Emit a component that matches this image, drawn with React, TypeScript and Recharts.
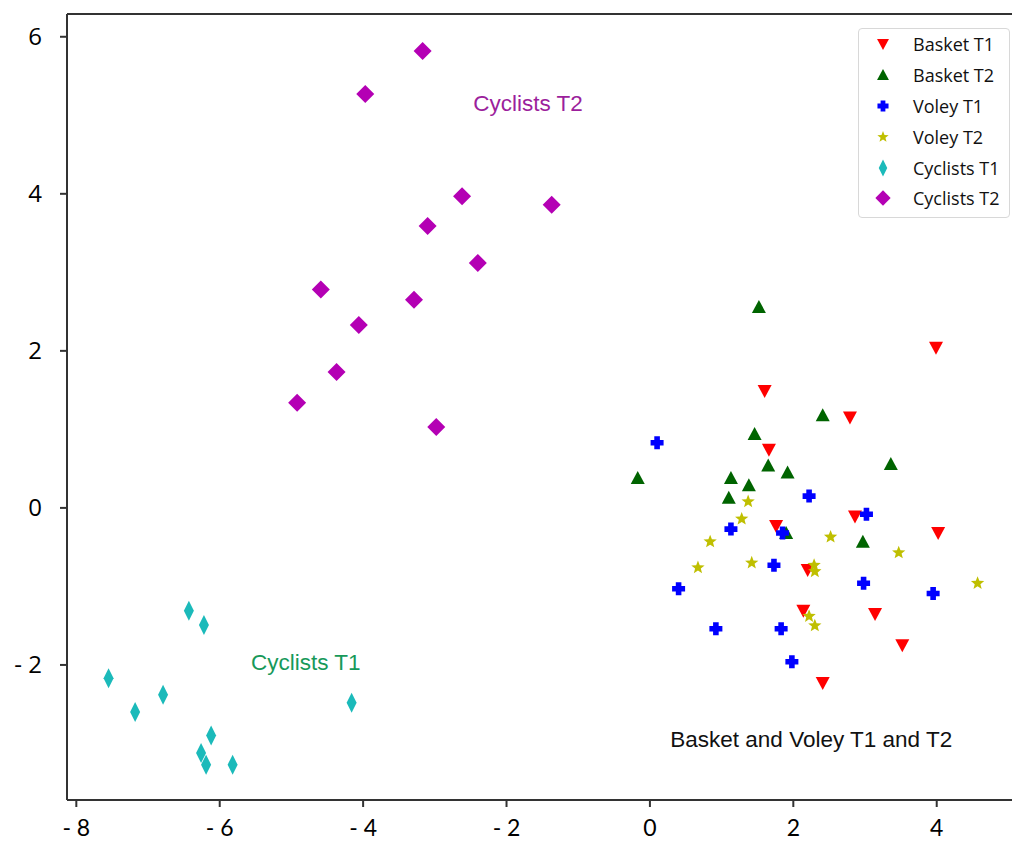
import React from "react";
import {
  ScatterChart,
  Scatter,
  XAxis,
  YAxis,
  ReferenceLine,
  ReferenceDot,
} from "recharts";

// points
const basketT1 = [
  { x: 3.99, y: 2.04 }, { x: 1.6, y: 1.49 }, { x: 2.79, y: 1.15 },
  { x: 1.66, y: 0.74 }, { x: 2.86, y: -0.11 }, { x: 1.76, y: -0.23 },
  { x: 4.02, y: -0.32 }, { x: 2.2, y: -0.79 }, { x: 2.14, y: -1.31 },
  { x: 3.14, y: -1.35 }, { x: 3.52, y: -1.75 }, { x: 2.41, y: -2.23 },
];
const basketT2 = [
  { x: 1.52, y: 2.56 }, { x: 2.41, y: 1.18 }, { x: 1.46, y: 0.94 },
  { x: 1.65, y: 0.54 }, { x: 1.92, y: 0.45 }, { x: 3.36, y: 0.56 },
  { x: -0.17, y: 0.38 }, { x: 1.13, y: 0.38 }, { x: 1.38, y: 0.29 },
  { x: 1.1, y: 0.13 }, { x: 1.9, y: -0.32 }, { x: 2.97, y: -0.43 },
];
const voleyT1 = [
  { x: 0.1, y: 0.83 }, { x: 2.22, y: 0.15 }, { x: 3.02, y: -0.08 },
  { x: 1.13, y: -0.27 }, { x: 1.85, y: -0.32 }, { x: 1.73, y: -0.73 },
  { x: 0.4, y: -1.03 }, { x: 2.98, y: -0.96 }, { x: 3.95, y: -1.09 },
  { x: 0.92, y: -1.54 }, { x: 1.83, y: -1.54 }, { x: 1.98, y: -1.96 },
];
const voleyT2 = [
  { x: 1.37, y: 0.08 }, { x: 1.28, y: -0.14 }, { x: 0.84, y: -0.43 },
  { x: 2.52, y: -0.37 }, { x: 3.47, y: -0.57 }, { x: 0.67, y: -0.76 },
  { x: 1.42, y: -0.7 }, { x: 2.29, y: -0.73 }, { x: 2.3, y: -0.81 },
  { x: 4.57, y: -0.96 }, { x: 2.22, y: -1.38 }, { x: 2.3, y: -1.5 },
];
const cyclistsT1 = [
  { x: -6.43, y: -1.31 }, { x: -6.22, y: -1.49 }, { x: -7.55, y: -2.17 },
  { x: -6.79, y: -2.38 }, { x: -7.18, y: -2.6 }, { x: -4.16, y: -2.48 },
  { x: -6.12, y: -2.9 }, { x: -6.26, y: -3.12 }, { x: -6.19, y: -3.27 },
  { x: -5.82, y: -3.27 },
];
const cyclistsT2 = [
  { x: -3.17, y: 5.82 }, { x: -3.97, y: 5.27 }, { x: -2.62, y: 3.97 },
  { x: -1.37, y: 3.86 }, { x: -3.1, y: 3.59 }, { x: -2.4, y: 3.12 },
  { x: -4.59, y: 2.78 }, { x: -3.29, y: 2.65 }, { x: -4.06, y: 2.33 },
  { x: -4.37, y: 1.73 }, { x: -4.92, y: 1.34 }, { x: -2.98, y: 1.03 },
];

const xTicks = [-8, -6, -4, -2, 0, 2, 4];
const yTicks = [-2, 0, 2, 4, 6];
const xDomain = [-8.13, 5.05];
const yDomain = [-3.72, 6.29];

const groupLabels = [
  { text: "Cyclists T2", x: -1.7, y: 5.16, color: "#9c1f9c" },
  { text: "Cyclists T1", x: -4.8, y: -1.96, color: "#17995a" },
  { text: "Basket and Voley T1 and T2", x: 2.25, y: -2.94, color: "#111111" },
];

type P = { cx?: number; cy?: number; fill?: string; s?: number };

const DownTri = ({ cx = 0, cy = 0, fill, s = 1 }: P) => (
  <path d={`M${cx - 7 * s},${cy - 6 * s} L${cx + 7 * s},${cy - 6 * s} L${cx},${cy + 7 * s} Z`} fill={fill} />
);
const UpTri = ({ cx = 0, cy = 0, fill, s = 1 }: P) => (
  <path d={`M${cx - 7 * s},${cy + 6 * s} L${cx + 7 * s},${cy + 6 * s} L${cx},${cy - 7 * s} Z`} fill={fill} />
);
const Plus = ({ cx = 0, cy = 0, fill, s = 1 }: P) => {
  const a = 6.5 * s;
  const t = 2.8 * s;
  const d = `M${cx - t},${cy - a} L${cx + t},${cy - a} L${cx + t},${cy - t} L${cx + a},${cy - t} L${cx + a},${cy + t} L${cx + t},${cy + t} L${cx + t},${cy + a} L${cx - t},${cy + a} L${cx - t},${cy + t} L${cx - a},${cy + t} L${cx - a},${cy - t} L${cx - t},${cy - t} Z`;
  return <path d={d} fill={fill} />;
};
const Star = ({ cx = 0, cy = 0, fill, s = 1 }: P) => {
  const pts: string[] = [];
  for (let i = 0; i < 10; i++) {
    const r = (i % 2 === 0 ? 7 : 3) * s;
    const ang = -Math.PI / 2 + (i * Math.PI) / 5;
    pts.push(`${cx + r * Math.cos(ang)},${cy + r * Math.sin(ang)}`);
  }
  return <polygon points={pts.join(" ")} fill={fill} />;
};
const ThinDiamond = ({ cx = 0, cy = 0, fill, s = 1 }: P) => (
  <path d={`M${cx},${cy - 10 * s} L${cx + 5 * s},${cy} L${cx},${cy + 10 * s} L${cx - 5 * s},${cy} Z`} fill={fill} />
);
const Diamond = ({ cx = 0, cy = 0, fill, s = 1 }: P) => (
  <path d={`M${cx},${cy - 9 * s} L${cx + 9 * s},${cy} L${cx},${cy + 9 * s} L${cx - 9 * s},${cy} Z`} fill={fill} />
);

const series = [
  { name: "Basket T1", data: basketT1, color: "#ff0000", Shape: DownTri },
  { name: "Basket T2", data: basketT2, color: "#006400", Shape: UpTri },
  { name: "Voley T1", data: voleyT1, color: "#0000ff", Shape: Plus },
  { name: "Voley T2", data: voleyT2, color: "#bfbf00", Shape: Star },
  { name: "Cyclists T1", data: cyclistsT1, color: "#1bbaba", Shape: ThinDiamond },
  { name: "Cyclists T2", data: cyclistsT2, color: "#b400b4", Shape: Diamond },
];

const fmt = (v: number) => (v < 0 ? `- ${Math.abs(v)}` : `${v}`);

const LegendBox = () => (
  <div
    style={{
      position: "absolute",
      left: 858,
      top: 28,
      width: 152,
      height: 190,
      border: "1px solid #d8d8d8",
      borderRadius: 4,
      background: "#fff",
      boxSizing: "border-box",
    }}
  >
    {series.map((s) => (
      <div key={s.name} style={{ display: "flex", alignItems: "center", height: 30.8 }}>
        <svg width={54} height={24} style={{ flex: "none" }}>
          <s.Shape cx={24} cy={12} fill={s.color} s={0.85} />
        </svg>
        <span
          style={{
            fontFamily: "'Open Sans', sans-serif",
            fontSize: 18,
            lineHeight: "20px",
            color: "#111",
            whiteSpace: "nowrap",
          }}
        >
          {s.name}
        </span>
      </div>
    ))}
  </div>
);

export default function App() {
  return (
    <div style={{ position: "absolute", left: 0, top: 0, width: 1012, height: 845, overflow: "hidden", background: "#fff" }}>
      <ScatterChart width={1012} height={845} margin={{ top: 14, right: 0, left: 0, bottom: 0 }}>
        <XAxis
          type="number"
          dataKey="x"
          domain={xDomain}
          ticks={xTicks}
          allowDataOverflow
          height={45}
          tickFormatter={fmt}
          tickSize={7}
          tickMargin={13}
          stroke="#333"
          strokeWidth={2}
          tick={{ fill: "#000", fontSize: 23, fontFamily: "Lato, sans-serif" }}
        />
        <YAxis
          type="number"
          dataKey="y"
          domain={yDomain}
          ticks={yTicks}
          allowDataOverflow
          width={67}
          tickFormatter={fmt}
          tickSize={7}
          tickMargin={18}
          stroke="#333"
          strokeWidth={2}
          tick={{ fill: "#000", fontSize: 24, fontFamily: "'Open Sans', sans-serif" }}
        />
        <ReferenceLine y={yDomain[1]} stroke="#333" strokeWidth={2} />
        {series.map((s) => (
          <Scatter
            key={s.name}
            name={s.name}
            data={s.data}
            fill={s.color}
            isAnimationActive={false}
            shape={(props: any) => <s.Shape cx={props.cx} cy={props.cy} fill={s.color} />}
          />
        ))}
        {groupLabels.map((g) => (
          <ReferenceDot
            key={g.text}
            x={g.x}
            y={g.y}
            r={0}
            stroke="none"
            label={{
              value: g.text,
              position: "center",
              fill: g.color,
              fontSize: 22.5,
              fontFamily: "'Liberation Sans', Arial, sans-serif",
            }}
          />
        ))}
      </ScatterChart>
      <LegendBox />
    </div>
  );
}
